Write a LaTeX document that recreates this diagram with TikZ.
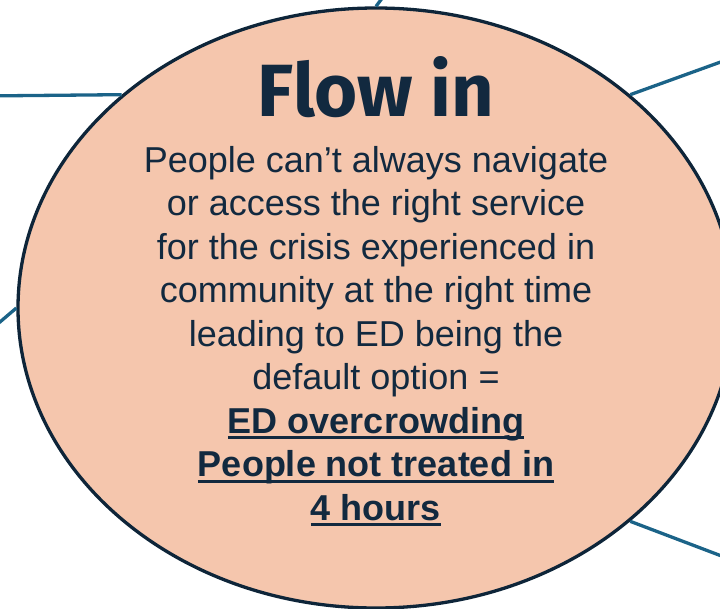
\documentclass[tikz,border=0pt]{standalone}
\usepackage{fontspec}
\setmainfont{Liberation Sans}
\newfontfamily\headfont{Fira Sans}
\usetikzlibrary{positioning,shapes.geometric}
\definecolor{peach}{HTML}{F5C6AD}
\definecolor{navy}{HTML}{0E2539}
\definecolor{inkblue}{HTML}{12293F}
\definecolor{spokeblue}{HTML}{1B6388}
\newcommand{\ulined}[1]{\setbox0\hbox{#1}\rlap{\rule[-6pt]{\wd0}{2.8pt}}\box0}

\begin{document}
\begin{tikzpicture}[x=1pt, y=-1pt]
        \tikzset{
           bubble/.style={
                        ellipse,
                        draw=navy,
                        fill=peach,
                        line width=3.3pt,
                        minimum width=716pt,
                        minimum height=600pt,
                        inner sep=0pt
                       },
           heading/.style={
                        text=inkblue,
                        font=\headfont\bfseries\fontsize{74}{74}\selectfont,
                        inner sep=0pt,
                        anchor=base
                       },
           blurb/.style={
                        text=inkblue,
                        font=\fontsize{36}{43.5}\selectfont,
                        align=center,
                        inner sep=0pt,
                        anchor=north
                       },
           spoke/.style={
                        draw=spokeblue,
                        line width=3.3pt
                       },
                 };
        \useasboundingbox (0,0) rectangle (720,608);
        \clip (0,0) rectangle (720,608);
    %--------------------
        \node[bubble]  (flowIn)    at (376,308) {};
        \node[heading] (flowTitle) at (376,116) {Flow in};
        \node[blurb]   (flowText)  at (376,146)
              {People can’t always navigate\\
               or access the right service\\
               for the crisis experienced in\\
               community at the right time\\
               leading to ED being the\\
               default option =\\
               \textbf{\ulined{ED overcrowding}}\\
               \textbf{\ulined{People not treated in}}\\
               \textbf{\ulined{4 hours}}};
    %--------------------
        \coordinate (upEnd)        at (386,-7);
        \coordinate (leftEnd)      at (-20,96);
        \coordinate (upRightEnd)   at (740,55);
        \coordinate (leftLowEnd)   at (-20,339);
        \coordinate (downRightEnd) at (740,563);

        \path[spoke] (flowIn.90)  edge (upEnd)
                     (flowIn.140) edge (leftEnd)
                     (flowIn.40)  edge (upRightEnd)
                     (flowIn.180) edge (leftLowEnd)
                     (flowIn.-40) edge (downRightEnd);
    \end{tikzpicture}
\end{document}
